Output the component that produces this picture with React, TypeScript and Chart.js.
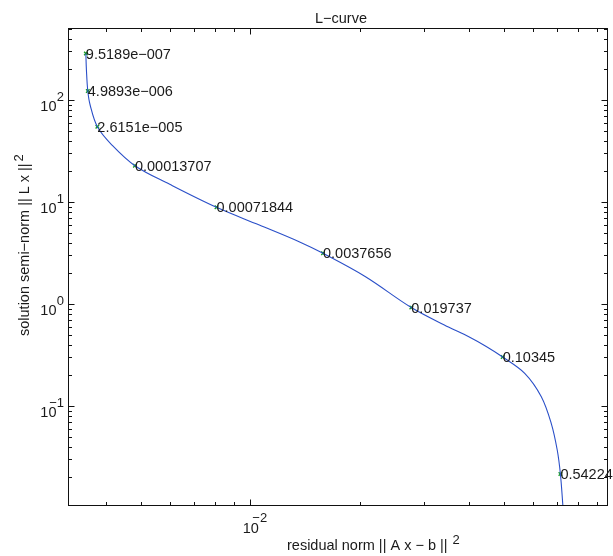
import React, { useEffect, useRef } from "react";
import { Chart, registerables } from "chart.js";

Chart.register(...registerables);

// ---- data ----
const curveX = [0.003525, 0.003538, 0.003569, 0.003622, 0.003792, 0.004159, 0.004811, 0.005999, 0.008068, 0.010585, 0.013621, 0.015849, 0.020749, 0.027733, 0.035093, 0.03981, 0.04459, 0.04949, 0.05691, 0.06322, 0.06732, 0.06993, 0.07135, 0.07249, 0.07296];
const curveY = [285.6, 196.9, 122.5, 89.3, 54.7, 36.2, 22.69, 14.9, 8.872, 5.951, 4.082, 3.141, 1.852, 0.924, 0.5949, 0.4801, 0.3831, 0.3022, 0.2092, 0.1234, 0.06767, 0.03704, 0.02154, 0.01047, 0.00763];

const markerX = [0.003525, 0.003569, 0.003792, 0.004811, 0.008068, 0.015849, 0.027733, 0.04949, 0.07135];
const markerY = [285.6, 122.5, 54.7, 22.69, 8.872, 3.141, 0.924, 0.3022, 0.02154];
const markerLabels = ["9.5189e-007", "4.9893e-006", "2.6151e-005", "0.00013707", "0.00071844", "0.0037656", "0.019737", "0.10345", "0.54224"];

const xMajorTicks = [0.01];
const xMajorExponents = ["-2"];
const xMinorTicks = [0.004, 0.005, 0.006, 0.007, 0.008, 0.009, 0.02, 0.03, 0.04, 0.05, 0.06, 0.07, 0.08, 0.09];
const yMajorTicks = [0.1, 1, 10, 100];
const yMajorExponents = ["-1", "0", "1", "2"];
const yMinorTicks = [0.02, 0.03, 0.04, 0.05, 0.06, 0.07, 0.08, 0.09, 0.2, 0.3, 0.4, 0.5, 0.6, 0.7, 0.8, 0.9, 2, 3, 4, 5, 6, 7, 8, 9, 20, 30, 40, 50, 60, 70, 80, 90, 200, 300, 400, 500];

const xMin = 0.003148;
const xMax = 0.09629;
const yMin = 0.01047;
const yMax = 508;

const titleText = "L-curve";
const xTitleText = "residual norm || A x - b ||";
const yTitleText = "solution semi-norm || L x ||";
const titleSup = "2";

const FONT = '"Liberation Sans", Arial, Helvetica, sans-serif';
const TEXT_COLOR = "#1a1a1a";
const minus = (s: string) => s.replace(/-/g, "\u2212");

const decorPlugin = {
  id: "matlabDecor",
  afterDatasetsDraw(chart: any) {
    const ctx = chart.ctx as CanvasRenderingContext2D;
    const xs = chart.scales.x;
    const ys = chart.scales.y;
    const ca = chart.chartArea;
    const L = Math.round(ca.left) + 0.5;
    const R = Math.round(ca.right) - 0.5;
    const T = Math.round(ca.top) + 0.5;
    const B = Math.round(ca.bottom) - 0.5;
    ctx.save();
    // box
    ctx.strokeStyle = "#111";
    ctx.lineWidth = 1;
    ctx.strokeRect(L, T, R - L, B - T);
    // ticks
    const major = 6;
    const minor = 3.5;
    ctx.beginPath();
    const xt = (v: number, len: number) => {
      const p = Math.round(xs.getPixelForValue(v)) + 0.5;
      ctx.moveTo(p, B);
      ctx.lineTo(p, B - len);
      ctx.moveTo(p, T);
      ctx.lineTo(p, T + len);
    };
    const yt = (v: number, len: number) => {
      const p = Math.round(ys.getPixelForValue(v)) + 0.5;
      ctx.moveTo(L, p);
      ctx.lineTo(L + len, p);
      ctx.moveTo(R, p);
      ctx.lineTo(R - len, p);
    };
    xMajorTicks.forEach((v) => xt(v, major));
    xMinorTicks.forEach((v) => xt(v, minor));
    yMajorTicks.forEach((v) => yt(v, major));
    yMinorTicks.forEach((v) => yt(v, minor));
    ctx.stroke();

    ctx.fillStyle = TEXT_COLOR;
    const baseFont = `14.5px ${FONT}`;
    const supFont = `13px ${FONT}`;

    // x tick labels
    xMajorTicks.forEach((v, i) => {
      const p = xs.getPixelForValue(v);
      ctx.font = baseFont;
      ctx.textAlign = "center";
      ctx.textBaseline = "alphabetic";
      ctx.fillText("10", p + 0.5, ca.bottom + 27);
      ctx.font = supFont;
      ctx.textAlign = "left";
      ctx.fillText(minus(xMajorExponents[i]), p + 2, ca.bottom + 16);
    });
    // y tick labels
    yMajorTicks.forEach((v, i) => {
      const p = ys.getPixelForValue(v);
      ctx.font = baseFont;
      ctx.textAlign = "right";
      ctx.textBaseline = "alphabetic";
      ctx.fillText("10", ca.left - 11.5, p + 10.5);
      ctx.font = supFont;
      ctx.textAlign = "right";
      ctx.fillText(minus(yMajorExponents[i]), ca.left - 4, p + 0.5);
    });

    // marker labels
    ctx.font = baseFont;
    ctx.textAlign = "left";
    ctx.textBaseline = "middle";
    markerX.forEach((v, i) => {
      const px = xs.getPixelForValue(v);
      const py = ys.getPixelForValue(markerY[i]);
      ctx.fillText(minus(markerLabels[i]), px, py + 1);
    });

    // title
    ctx.textAlign = "center";
    ctx.textBaseline = "alphabetic";
    ctx.fillText(minus(titleText), 341, 23);

    // x title
    ctx.textAlign = "left";
    const xtStart = 287;
    ctx.fillText(minus(xTitleText), xtStart, 550);
    const xw = ctx.measureText(minus(xTitleText)).width;
    ctx.font = supFont;
    ctx.fillText(titleSup, xtStart + xw + 5, 544);

    // y title (rotated)
    ctx.save();
    ctx.translate(29, 336);
    ctx.rotate(-Math.PI / 2);
    ctx.font = baseFont;
    ctx.textAlign = "left";
    ctx.fillText(minus(yTitleText), 0, 0);
    const yw = ctx.measureText(minus(yTitleText)).width;
    ctx.font = supFont;
    ctx.fillText(titleSup, yw + 2, -6);
    ctx.restore();

    ctx.restore();
  },
};

const bgPlugin = {
  id: "whiteBg",
  beforeDraw(chart: any) {
    const ctx = chart.ctx;
    ctx.save();
    ctx.fillStyle = "#ffffff";
    ctx.fillRect(0, 0, chart.width, chart.height);
    ctx.restore();
  },
};

export default function App() {
  const ref = useRef<HTMLCanvasElement | null>(null);
  useEffect(() => {
    if (!ref.current) return;
    const chart = new Chart(ref.current, {
      type: "scatter",
      data: {
        datasets: [
          {
            label: "curve",
            data: curveX.map((x, i) => ({ x, y: curveY[i] })),
            showLine: true,
            borderColor: "#2a4fc8",
            borderWidth: 1.1,
            pointRadius: 0,
            tension: 0.35,
          },
          {
            label: "markers",
            data: markerX.map((x, i) => ({ x, y: markerY[i] })),
            showLine: false,
            pointStyle: "crossRot",
            pointRadius: 2.5,
            borderColor: "#139a22",
            borderWidth: 1.3,
          },
        ],
      },
      options: {
        responsive: false,
        animation: false,
        devicePixelRatio: 1,
        layout: { padding: { left: 68, top: 28, right: 3, bottom: 50 } },
        plugins: { legend: { display: false }, tooltip: { enabled: false }, title: { display: false } },
        scales: {
          x: { type: "logarithmic", min: xMin, max: xMax, display: false },
          y: { type: "logarithmic", min: yMin, max: yMax, display: false },
        },
      },
      plugins: [bgPlugin, decorPlugin],
    });
    return () => chart.destroy();
  }, []);
  return (
    <div style={{ position: "fixed", left: 0, top: 0, width: 613, height: 556, background: "#fff" }}>
      <canvas ref={ref} width={613} height={556} style={{ display: "block" }} />
    </div>
  );
}
